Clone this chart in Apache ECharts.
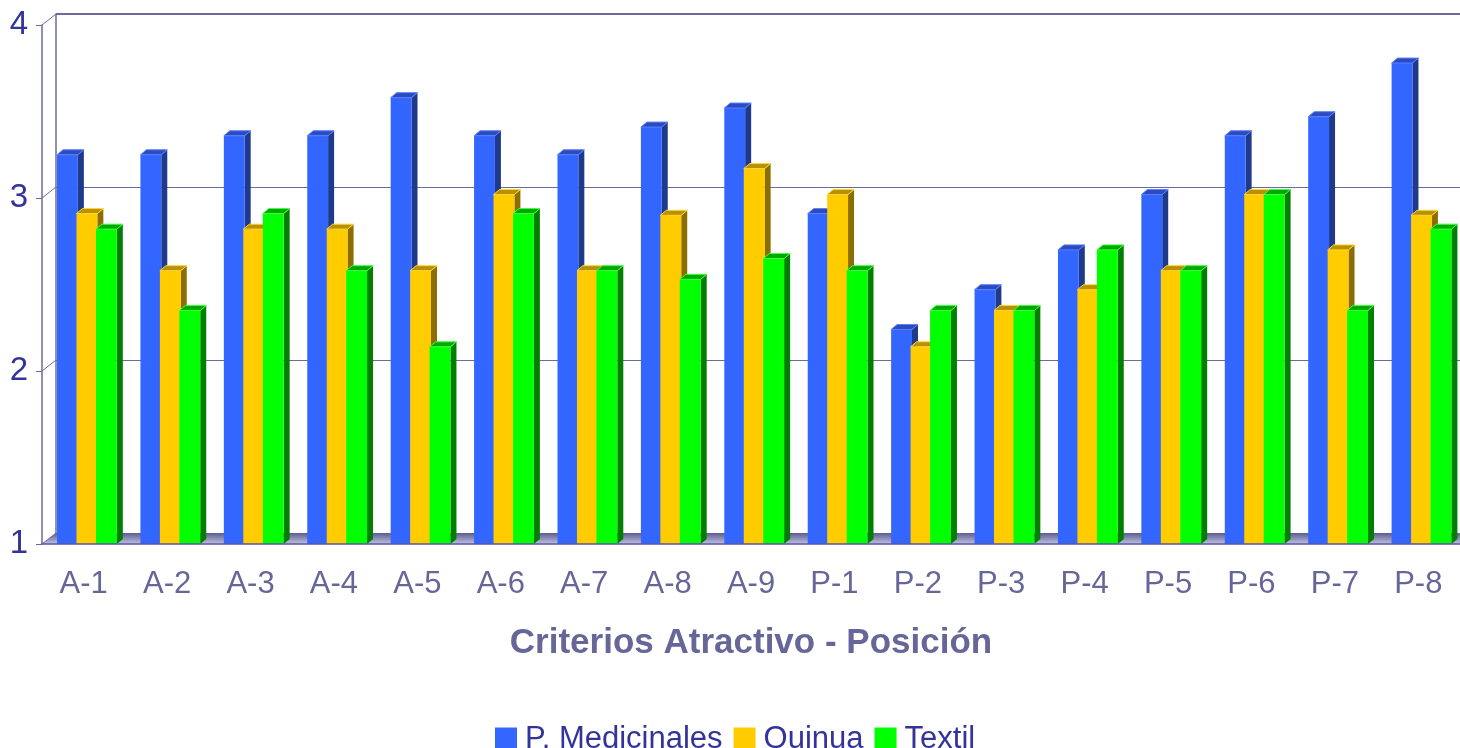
<!DOCTYPE html>
<html>
<head>
<meta charset="utf-8">
<title>Criterios Atractivo - Posición</title>
<script src="https://cdn.jsdelivr.net/npm/echarts/dist/echarts.min.js"></script>
<style>
    html, body { margin: 0; padding: 0; background: #fff; }
    #eChartBarras { width: 1460px; height: 748px; }
</style>
</head>
<body>
<div id="eChartBarras"></div>
<script>
// datos
var categorias = ['A-1', 'A-2', 'A-3', 'A-4', 'A-5', 'A-6', 'A-7', 'A-8', 'A-9', 'P-1', 'P-2', 'P-3', 'P-4', 'P-5', 'P-6', 'P-7', 'P-8'];
var medicinales = [3.25, 3.25, 3.36, 3.36, 3.58, 3.36, 3.25, 3.41, 3.52, 2.91, 2.24, 2.47, 2.70, 3.02, 3.36, 3.47, 3.78];
var quinua = [2.91, 2.58, 2.82, 2.82, 2.58, 3.02, 2.58, 2.90, 3.17, 3.02, 2.14, 2.35, 2.47, 2.58, 3.02, 2.70, 2.90];
var textil = [2.82, 2.35, 2.91, 2.58, 2.14, 2.91, 2.58, 2.53, 2.65, 2.58, 2.35, 2.35, 2.70, 2.58, 3.02, 2.35, 2.82];
var marcasY = [1, 2, 3, 4];

var fuente = '"Liberation Sans", Arial, sans-serif';
var colorLinea = '#6b6b9b';

var grafico = {
    chart: null,
    init: function () {
        grafico.chart = echarts.init(document.getElementById('eChartBarras'));
        grafico.initEChart();
        grafico.decorar();
    },
    // barra con cara frontal, lateral y superior (efecto 3D)
    barra3D: function (colores) {
        return function (params, api) {
            var s = params.seriesIndex;
            var cat = api.value(0);
            var punta = api.coord([cat, api.value(1)]);
            var base = api.coord([cat, marcasY[0]]);
            var banda = api.size([1, 0])[0];
            var w = banda * 0.25;
            var x0 = punta[0] - banda * 0.32 + s * banda * 0.2335;
            var yt = punta[1], yb = base[1];
            var dx = 6, dy = -5;
            return {
                type: 'group',
                children: [
                    {
                        type: 'polygon',
                        shape: { points: [[x0 + w, yt], [x0 + w + dx, yt + dy], [x0 + w + dx, yb + dy], [x0 + w, yb]] },
                        style: { fill: colores.lado }
                    },
                    {
                        type: 'rect',
                        shape: { x: x0, y: yt, width: w, height: yb - yt },
                        style: { fill: colores.frente }
                    },
                    {
                        type: 'polygon',
                        shape: { points: [[x0, yt], [x0 + w, yt], [x0 + w + dx, yt + dy], [x0 + dx, yt + dy]] },
                        style: { fill: colores.arriba, stroke: colores.borde, lineWidth: 1 }
                    }
                ]
            };
        };
    },
    serie: function (nombre, valores, colores, z) {
        return {
            name: nombre,
            type: 'custom',
            xAxisIndex: 0,
            yAxisIndex: 0,
            z: z,
            itemStyle: { color: colores.frente },
            renderItem: grafico.barra3D(colores),
            encode: { x: 0, y: 1 },
            data: valores.map(function (v, i) { return [i, v]; })
        };
    },
    initEChart: function () {
        var option = {
            animation: false,
            grid: [
                { left: 42, top: 25, right: 0, bottom: 204 },   // plano frontal
                { left: 56, top: 14, right: -14, bottom: 215 }  // pared del fondo
            ],
            legend: {
                left: 490,
                top: 719,
                icon: 'rect',
                itemWidth: 22,
                itemHeight: 24,
                itemGap: 11,
                textStyle: { fontSize: 31, color: '#333399', fontFamily: fuente, padding: [0, 0, 0, 3] },
                data: ['P. Medicinales', 'Quinua', 'Textil']
            },
            xAxis: [
                {
                    type: 'category',
                    gridIndex: 0,
                    z: 10,
                    data: categorias,
                    name: 'Criterios Atractivo - Posición',
                    nameLocation: 'middle',
                    nameGap: 82,
                    nameTextStyle: { fontSize: 35, fontWeight: 'bold', color: '#666699', fontFamily: fuente },
                    axisLine: { lineStyle: { color: '#5555aa', width: 1.5 } },
                    axisTick: { length: 7, lineStyle: { color: '#5555aa' } },
                    axisLabel: { fontSize: 31, color: '#666699', margin: 25, fontFamily: fuente }
                },
                {
                    type: 'category',
                    gridIndex: 1,
                    show: false,
                    data: categorias
                }
            ],
            yAxis: [
                {
                    type: 'value',
                    gridIndex: 0,
                    z: 10,
                    min: marcasY[0],
                    max: marcasY[marcasY.length - 1],
                    interval: 1,
                    axisLine: { show: true, lineStyle: { color: colorLinea, width: 1.5 } },
                    axisTick: { show: true, length: 6, lineStyle: { color: colorLinea } },
                    axisLabel: { fontSize: 33, color: '#333399', margin: 14, fontFamily: fuente, padding: [4, 0, 0, 0] },
                    splitLine: { show: false }
                },
                {
                    type: 'value',
                    gridIndex: 1,
                    min: marcasY[0],
                    max: marcasY[marcasY.length - 1],
                    interval: 1,
                    axisLine: { show: true, lineStyle: { color: colorLinea, width: 1.5 } },
                    axisTick: { show: false },
                    axisLabel: { show: false },
                    splitLine: { show: true, lineStyle: { color: colorLinea, width: 1 } }
                }
            ],
            series: [
                grafico.serie('P. Medicinales', medicinales, { frente: '#3366ff', lado: '#1f3a8a', arriba: '#2a4cc0', borde: '#5b80ff' }, 2),
                grafico.serie('Quinua', quinua, { frente: '#ffcc00', lado: '#8c6e00', arriba: '#b89000', borde: '#ffd633' }, 3),
                grafico.serie('Textil', textil, { frente: '#00ff00', lado: '#007f00', arriba: '#00a800', borde: '#40ff40' }, 4)
            ]
        };
        grafico.chart.setOption(option);
    },
    // piso y uniones entre plano frontal y pared del fondo
    decorar: function () {
        var c = grafico.chart;
        var elementos = [];
        marcasY.forEach(function (v) {
            var y = c.convertToPixel({ yAxisIndex: 0 }, v);
            elementos.push({
                type: 'line', z: 5,
                shape: { x1: 42, y1: y, x2: 56, y2: y - 11 },
                style: { stroke: colorLinea, lineWidth: 1 }
            });
        });
        var yPiso = c.convertToPixel({ yAxisIndex: 0 }, marcasY[0]);
        elementos.push({
            type: 'polygon', z: 1,
            shape: { points: [[42, yPiso], [56, yPiso - 11], [1460, yPiso - 11], [1460, yPiso]] },
            style: {
                fill: new echarts.graphic.LinearGradient(0, 0, 0, 1, [
                    { offset: 0, color: '#5c5c92' },
                    { offset: 1, color: '#c0c0dc' }
                ])
            }
        });
        var yTope = c.convertToPixel({ yAxisIndex: 1 }, marcasY[marcasY.length - 1]);
        elementos.push({
            type: 'line', z: 5,
            shape: { x1: 56, y1: yTope, x2: 1460, y2: yTope },
            style: { stroke: colorLinea, lineWidth: 2 }
        });
        c.setOption({ graphic: elementos });
    }
};

grafico.init();
</script>
</body>
</html>
